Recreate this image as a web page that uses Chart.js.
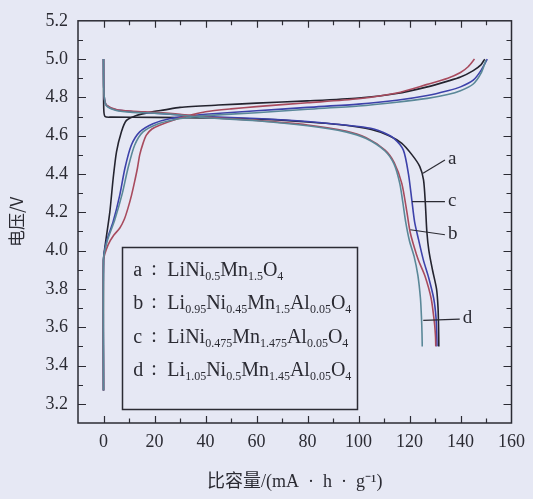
<!DOCTYPE html>
<html>
<head>
<meta charset="utf-8">
<script src="https://cdn.jsdelivr.net/npm/chart.js@4/dist/chart.umd.min.js"></script>
<style>
  html, body { margin: 0; padding: 0; background: #e6e8f4; }
  #wrap { width: 533px; height: 499px; }
</style>
</head>
<body>
<div id="wrap"><canvas id="c" width="533" height="499"></canvas></div>
<script>
// Charge / discharge profiles: specific capacity (mA·h/g) and voltage (V)
const aChargeCap = [0, 0, 0.5, 2.5, 3.8, 5.1, 7.0, 9.0, 12.9, 18, 24, 30, 45, 60, 80, 100, 115, 127, 135, 140, 145, 148, 149.5];
const aChargeV   = [3.27, 3.95, 4.014, 4.204, 4.378, 4.516, 4.62, 4.68, 4.706, 4.722, 4.735, 4.748, 4.76, 4.77, 4.782, 4.797, 4.82, 4.855, 4.885, 4.906, 4.94, 4.97, 5.0];

const bChargeCap = [0, 0, 1.8, 4.0, 6.4, 8.2, 9.6, 11.0, 12.2, 13.3, 14.2, 15.5, 16.8, 19, 22, 28.5, 35, 40, 50, 60, 80, 100, 115, 127, 135, 140, 143, 145.5];
const bChargeV   = [3.27, 3.95, 4.03, 4.08, 4.118, 4.165, 4.222, 4.29, 4.36, 4.43, 4.5, 4.56, 4.603, 4.635, 4.655, 4.686, 4.71, 4.725, 4.74, 4.752, 4.772, 4.793, 4.823, 4.868, 4.9, 4.93, 4.96, 5.0];

const cChargeCap = [0, 0, 1.2, 3.8, 6.4, 8.4, 10.9, 14.2, 19.4, 25.9, 35, 40, 60, 80, 100, 115, 127, 135, 140, 145, 148, 150.5];
const cChargeV   = [3.27, 3.95, 4.048, 4.152, 4.291, 4.43, 4.55, 4.62, 4.663, 4.689, 4.705, 4.712, 4.73, 4.748, 4.765, 4.785, 4.81, 4.835, 4.855, 4.89, 4.94, 5.0];

const dChargeCap = [0, 0, 1.4, 4.4, 7.4, 9.6, 12.2, 15.5, 21, 28, 35, 40, 60, 80, 100, 115, 127, 135, 140, 145, 148, 150];
const dChargeV   = [3.27, 3.95, 4.048, 4.16, 4.3, 4.43, 4.55, 4.62, 4.66, 4.685, 4.698, 4.705, 4.72, 4.738, 4.755, 4.775, 4.795, 4.815, 4.835, 4.87, 4.925, 4.995];

const aDischargeCap = [0, 0.1, 0.6, 3, 20, 40, 60, 80, 95, 105, 112, 117, 121, 124, 125.5, 126.2, 126.8, 127.6, 129, 130.6, 131.2, 131.4, 131.5];
const aDischargeV   = [5.0, 4.74, 4.70, 4.697, 4.696, 4.693, 4.688, 4.672, 4.655, 4.632, 4.6, 4.56, 4.5, 4.44, 4.37, 4.25, 4.1, 4.0, 3.9, 3.8, 3.7, 3.6, 3.5];

const bDischargeCap = [0, 0.1, 0.4, 1.2, 5, 11.6, 20, 30, 40, 60, 80, 95, 103, 110.4, 114, 117, 119, 120.2, 121.8, 123.5, 126, 128.5, 129.8, 130.2, 130.3];
const bDischargeV   = [5.0, 4.85, 4.79, 4.76, 4.737, 4.728, 4.722, 4.712, 4.697, 4.68, 4.656, 4.625, 4.59, 4.525, 4.46, 4.35, 4.2, 4.1, 4.02, 3.95, 3.87, 3.75, 3.62, 3.55, 3.5];

const cDischargeCap = [0, 0.1, 0.4, 1.2, 5, 11.6, 20, 30, 40, 60, 80, 100, 106, 110, 114, 117.6, 119.6, 120.9, 122, 123.5, 125.4, 127.5, 129.5, 130.4, 130.7, 130.8];
const cDischargeV   = [5.0, 4.85, 4.79, 4.758, 4.735, 4.725, 4.718, 4.708, 4.7, 4.69, 4.674, 4.648, 4.635, 4.615, 4.585, 4.525, 4.4, 4.265, 4.15, 4.06, 3.953, 3.86, 3.75, 3.65, 3.55, 3.5];

const dDischargeCap = [0, 0.1, 0.4, 1.2, 5, 11.6, 20, 30, 40, 60, 80, 95, 103, 110.4, 114, 116.2, 117.4, 118.5, 120, 121.8, 123.3, 124.3, 124.7, 124.9, 125];
const dDischargeV   = [5.0, 4.85, 4.79, 4.756, 4.732, 4.722, 4.718, 4.708, 4.694, 4.678, 4.652, 4.62, 4.585, 4.52, 4.45, 4.35, 4.25, 4.15, 4.05, 3.97, 3.87, 3.75, 3.65, 3.57, 3.5];

// Sample tags and compositions
const sampleTags = ['a', 'b', 'c', 'd'];
const sampleFormulas = [
  'LiNi_{0.5}Mn_{1.5}O_{4}',
  'Li_{0.95}Ni_{0.45}Mn_{1.5}Al_{0.05}O_{4}',
  'LiNi_{0.475}Mn_{1.475}Al_{0.05}O_{4}',
  'Li_{1.05}Ni_{0.5}Mn_{1.45}Al_{0.05}O_{4}'
];

// Axis settings
const xMin = -10, xMax = 160, xStep = 10;
const yMin = 3.1, yMax = 5.2, yStep = 0.1;
const xTitle = '比容量/(mA\u2002·\u2002h\u2002·\u2002g⁻¹)';
const yTitle = '电压/V';

// Curve colours
const colors = { a: '#24242f', b: '#a84b5e', c: '#3d42aa', d: '#5a8898' };

// Callout lines pointing at the discharge tails (data coordinates)
const callouts = [
  { tag: 'a', from: [125.3, 4.404], to: [133.9, 4.473] },
  { tag: 'c', from: [121.0, 4.256], to: [133.9, 4.256] },
  { tag: 'b', from: [120.3, 4.109], to: [133.9, 4.083] },
  { tag: 'd', from: [125.4, 3.636], to: [139.7, 3.642] }
];
// Composition box corners (data coordinates)
const boxCorners = { x0: 7.4, x1: 99.6, y0: 4.019, y1: 3.175 };

function zip(xs, ys) { return xs.map((v, i) => ({ x: v, y: ys[i] })); }

const series = [
  ['d', dChargeCap, dChargeV], ['d', dDischargeCap, dDischargeV],
  ['b', bChargeCap, bChargeV], ['b', bDischargeCap, bDischargeV],
  ['c', cChargeCap, cChargeV], ['c', cDischargeCap, cDischargeV],
  ['a', aChargeCap, aChargeV], ['a', aDischargeCap, aDischargeV]
];

const datasets = series.map(([tag, xs, ys]) => ({
  label: tag,
  data: zip(xs, ys),
  borderColor: colors[tag],
  borderWidth: 1.6,
  pointRadius: 0,
  fill: false,
  tension: 0.25
}));

const BG = '#e6e8f4';
const INK = '#2b2b33';
const SERIF = "'Liberation Serif', 'Times New Roman', 'Noto Sans CJK SC', serif";

// Draw text with _{sub} / ^{sup} segments
function drawRich(ctx, str, x, y, size) {
  const parts = [];
  const re = /([_^])\{([^}]*)\}|([^_^]+)/g;
  let m;
  while ((m = re.exec(str)) !== null) {
    if (m[3]) parts.push({ t: m[3], k: 'n' });
    else parts.push({ t: m[2], k: m[1] === '_' ? 'sub' : 'sup' });
  }
  let cx = x;
  ctx.textBaseline = 'alphabetic';
  ctx.textAlign = 'left';
  for (const p of parts) {
    if (p.k === 'n') {
      ctx.font = `${size}px ${SERIF}`;
      ctx.fillText(p.t, cx, y);
    } else {
      const s = size * 0.6;
      ctx.font = `${s}px ${SERIF}`;
      ctx.fillText(p.t, cx, p.k === 'sub' ? y + size * 0.2 : y - size * 0.4);
    }
    cx += ctx.measureText(p.t).width;
  }
}

const framePlugin = {
  id: 'frame',
  beforeDraw(chart) {
    const { ctx, width, height } = chart;
    ctx.save();
    ctx.fillStyle = BG;
    ctx.fillRect(0, 0, width, height);
    ctx.restore();
  },
  afterDraw(chart) {
    const { ctx, chartArea: { left, right, top, bottom }, scales: { x, y } } = chart;
    ctx.save();
    ctx.strokeStyle = INK;
    ctx.lineWidth = 1.5;
    ctx.strokeRect(left, top, right - left, bottom - top);

    // inward tick marks on all four sides
    ctx.lineWidth = 1.2;
    ctx.beginPath();
    x.ticks.forEach(t => {
      const k = Math.round(t.value);
      if (k <= xMin || k >= xMax) return;
      const px = Math.round(x.getPixelForValue(t.value)) + 0.5;
      const len = (k % 20 === 0) ? 7 : 4.5;
      ctx.moveTo(px, bottom); ctx.lineTo(px, bottom - len);
      ctx.moveTo(px, top); ctx.lineTo(px, top + len);
    });
    y.ticks.forEach(t => {
      const k = Math.round(t.value * 10);
      if (k <= Math.round(yMin * 10) || k >= Math.round(yMax * 10)) return;
      const py = Math.round(y.getPixelForValue(t.value)) + 0.5;
      const len = (k % 2 === 0) ? 8 : 5;
      ctx.moveTo(left, py); ctx.lineTo(left + len, py);
      ctx.moveTo(right, py); ctx.lineTo(right - len, py);
    });
    ctx.stroke();

    // callout lines and tags
    ctx.lineWidth = 1.2;
    ctx.fillStyle = INK;
    callouts.forEach(c => {
      const x0 = x.getPixelForValue(c.from[0]), y0 = y.getPixelForValue(c.from[1]);
      const x1 = x.getPixelForValue(c.to[0]), y1 = y.getPixelForValue(c.to[1]);
      ctx.beginPath(); ctx.moveTo(x0, y0); ctx.lineTo(x1, y1); ctx.stroke();
      ctx.font = `19px ${SERIF}`;
      ctx.textAlign = 'left';
      ctx.textBaseline = 'middle';
      ctx.fillText(c.tag, x1 + 3, y1 - 1);
    });

    // composition box
    const bx0 = x.getPixelForValue(boxCorners.x0), bx1 = x.getPixelForValue(boxCorners.x1);
    const by0 = y.getPixelForValue(boxCorners.y0), by1 = y.getPixelForValue(boxCorners.y1);
    ctx.lineWidth = 1.5;
    ctx.strokeRect(Math.round(bx0) + 0.5, Math.round(by0) + 0.5, Math.round(bx1 - bx0), Math.round(by1 - by0));
    sampleTags.forEach((tag, i) => {
      const ty = by0 + 29 + i * 33.4;
      ctx.font = `20px ${SERIF}`;
      ctx.textAlign = 'left';
      ctx.textBaseline = 'alphabetic';
      ctx.fillText(tag, bx0 + 11, ty);
      ctx.fillText(':', bx0 + 29, ty - 1);
      drawRich(ctx, sampleFormulas[i], bx0 + 45, ty, 20);
    });
    ctx.restore();
  }
};

new Chart(document.getElementById('c'), {
  type: 'line',
  data: { datasets },
  plugins: [framePlugin],
  options: {
    responsive: false,
    animation: false,
    devicePixelRatio: 1,
    layout: { padding: { top: 20, right: 18, left: 0, bottom: 0 } },
    plugins: { legend: { display: false }, tooltip: { enabled: false } },
    scales: {
      x: {
        type: 'linear',
        min: xMin, max: xMax,
        grid: { display: false, drawTicks: false },
        border: { display: false },
        ticks: {
          stepSize: xStep, autoSkip: false, maxRotation: 0, padding: 8,
          color: INK, font: { family: SERIF, size: 18 },
          callback: v => (Math.round(v) % 20 === 0 && v >= 0) ? String(Math.round(v)) : ''
        },
        title: {
          display: true, text: xTitle, color: INK,
          font: { family: SERIF, size: 18 }, padding: { top: 0, bottom: 6 }
        },
        afterFit: s => { s.height = 76; }
      },
      y: {
        type: 'linear',
        min: yMin, max: yMax,
        grid: { display: false, drawTicks: false },
        border: { display: false },
        ticks: {
          stepSize: yStep, autoSkip: false, padding: 10,
          color: INK, font: { family: SERIF, size: 18 },
          callback: v => { const k = Math.round(v * 10); return k % 2 === 0 ? (k / 10).toFixed(1) : ''; }
        },
        title: {
          display: true, text: yTitle, color: INK,
          font: { family: "'Noto Sans CJK SC', sans-serif", size: 17 }, padding: { top: 6, bottom: 0 }
        },
        afterFit: s => { s.width = 78; }
      }
    }
  }
});
</script>
</body>
</html>
